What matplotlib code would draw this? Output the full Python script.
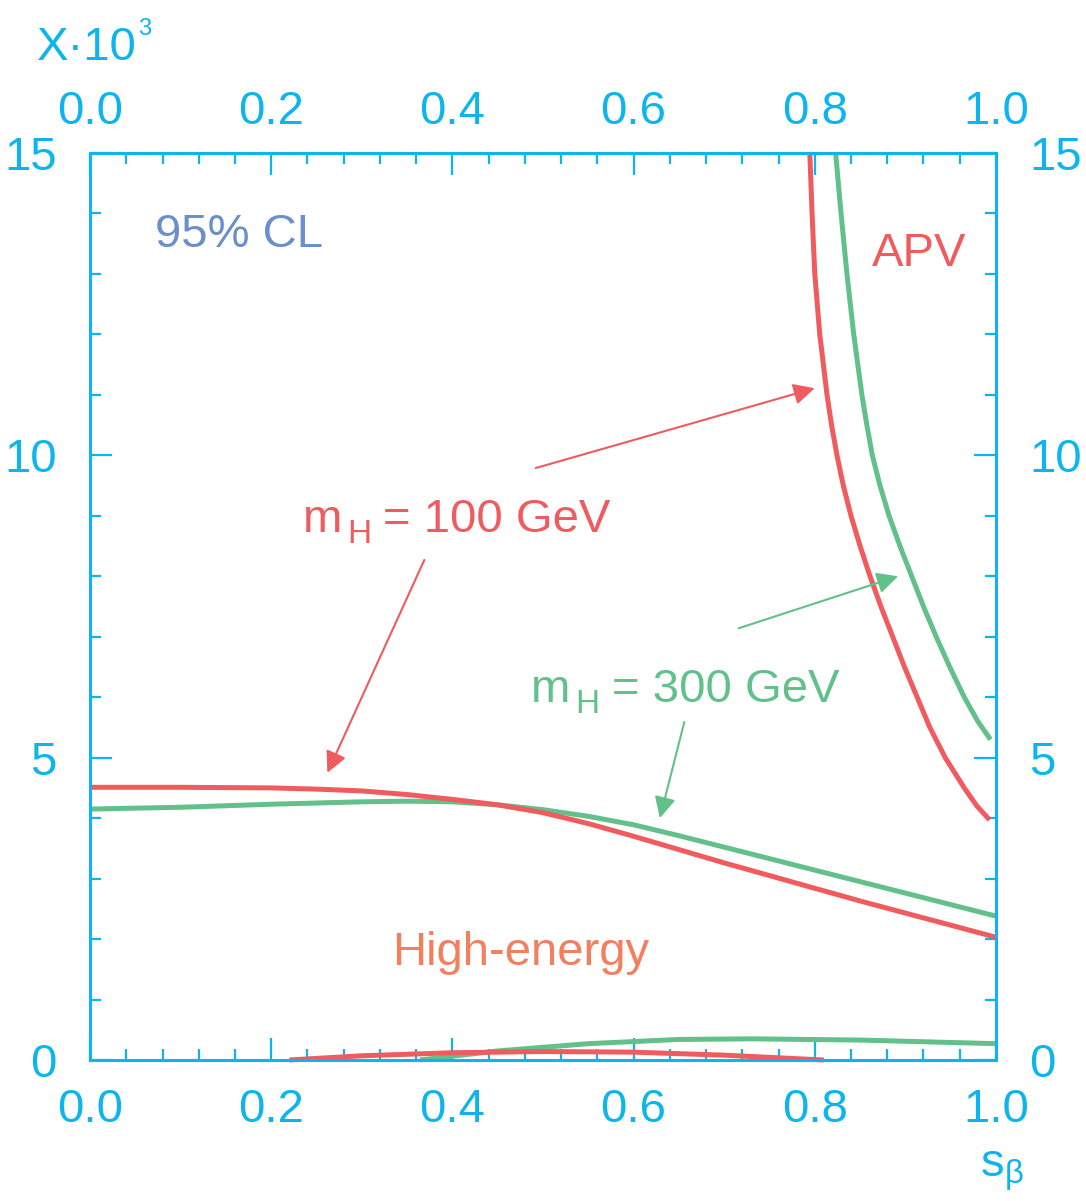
import matplotlib
matplotlib.use("Agg")
import matplotlib.pyplot as plt
from matplotlib.ticker import NullLocator
import numpy as np

# high-energy bounds (upper branch)
he_x = [0.0, 0.1, 0.2, 0.25, 0.3, 0.35, 0.4, 0.45, 0.5, 0.55, 0.6, 0.65, 0.7, 0.75, 0.8, 0.85, 0.9, 0.95, 1.0]
he_100 = [4.51, 4.51, 4.50, 4.48, 4.45, 4.39, 4.31, 4.22, 4.09, 3.91, 3.70, 3.48, 3.26, 3.05, 2.84, 2.63, 2.43, 2.23, 2.03]
he_300 = [4.15, 4.18, 4.23, 4.25, 4.27, 4.28, 4.27, 4.22, 4.14, 4.03, 3.89, 3.71, 3.52, 3.33, 3.14, 2.95, 2.76, 2.57, 2.38]

# high-energy bounds (lower branch)
low100_x = [0.22, 0.3, 0.4, 0.5, 0.6, 0.7, 0.81]
low100_y = [0.0, 0.07, 0.12, 0.14, 0.13, 0.08, 0.0]
low300_x = [0.364, 0.45, 0.55, 0.65, 0.73, 0.85, 1.0]
low300_y = [0.0, 0.15, 0.27, 0.34, 0.35, 0.33, 0.27]

# APV bounds
apv100_y = [15.0, 14.0, 13.0, 12.0, 11.0, 10.5, 10.0, 9.5, 9.0, 8.5, 8.0, 7.5, 7.0, 6.5, 6.0, 5.5, 5.0, 4.5, 4.2, 3.97]
apv100_x = [0.7945, 0.797, 0.800, 0.8055, 0.8135, 0.8185, 0.8245, 0.8315, 0.840, 0.850, 0.861, 0.873, 0.886,
            0.899, 0.913, 0.927, 0.944, 0.965, 0.979, 0.993]
apv300_y = [15.0, 14.0, 13.0, 12.0, 11.0, 10.5, 10.0, 9.5, 9.0, 8.5, 8.0, 7.5, 7.0, 6.5, 6.0, 5.6, 5.3]
apv300_x = [0.823, 0.829, 0.8355, 0.843, 0.852, 0.8575, 0.8635, 0.872, 0.882, 0.894, 0.907, 0.920, 0.934,
            0.949, 0.965, 0.980, 0.994]

xticks = [0.0, 0.2, 0.4, 0.6, 0.8, 1.0]
xlabels = ["0.0", "0.2", "0.4", "0.6", "0.8", "1.0"]
yticks = [0, 5, 10, 15]
ylabels = ["0", "5", "10", "15"]

blue = "#0DB4EE"
red = "#EF5B5E"
green = "#62C08A"

plt.rc('font', **{'size': 34, 'family': 'Liberation Sans'})
plt.rc('mathtext', fontset='custom', rm='Liberation Sans', it='Liberation Sans', bf='Liberation Sans')

fig, ax = plt.subplots(figsize=(10.86, 12.01), dpi=100)
fig.subplots_adjust(left=0.0829, right=0.9171, top=0.8726, bottom=0.1174)

lw = 3.6
ax.plot(he_x, he_300, color=green, lw=lw, solid_capstyle='butt')
ax.plot(he_x, he_100, color=red, lw=lw, solid_capstyle='butt')
ax.plot(low300_x, low300_y, color=green, lw=lw, solid_capstyle='butt', clip_on=False)
ax.plot(low100_x, low100_y, color=red, lw=lw, solid_capstyle='butt', clip_on=False)
ax.plot(apv300_x, apv300_y, color=green, lw=lw, solid_capstyle='butt', solid_joinstyle='round')
ax.plot(apv100_x, apv100_y, color=red, lw=lw, solid_capstyle='butt', solid_joinstyle='round')

ax.set_xlim(0, 1)
ax.set_ylim(0, 15)

# arrows
arrow = dict(arrowstyle='-|>', lw=1.5, mutation_scale=32, shrinkA=0, shrinkB=0)
ax.annotate("", xy=(0.800, 11.11), xytext=(0.492, 9.79), arrowprops=dict(color=red, **arrow))
ax.annotate("", xy=(0.262, 4.75), xytext=(0.369, 8.27), arrowprops=dict(color=red, **arrow))
ax.annotate("", xy=(0.892, 8.0), xytext=(0.716, 7.14), arrowprops=dict(color=green, **arrow))
ax.annotate("", xy=(0.629, 4.0), xytext=(0.656, 5.59), arrowprops=dict(color=green, **arrow))

# labels
ax.text(0.072, 13.65, "95% CL", color="#6A8FCB", va='center', ha='left')
ax.text(0.863, 13.33, "APV", color=red, va='center', ha='left')
for (lx, ly), txt, c in [((0.235, 8.73), "= 100 GeV", red), ((0.487, 5.92), "= 300 GeV", green)]:
    ax.text(lx, ly, "m", color=c, va='baseline', ha='left')
    ax.annotate("H", (lx, ly), xytext=(32, -8), textcoords='offset points', fontsize=24,
                color=c, va='baseline', ha='left')
    ax.annotate(txt, (lx, ly), xytext=(58, 0), textcoords='offset points',
                color=c, va='baseline', ha='left')
ax.text(0.334, 1.57, "High-energy", color="#F2805F", va='baseline', ha='left')

fig.text(0.034, 0.950, "X\u00b710", color=blue, ha='left', va='baseline')
fig.text(0.1275, 0.971, "3", color=blue, ha='left', va='baseline', fontsize=17)
fig.text(0.902, 0.020, r"$\mathrm{s}_{\mathrm{β}}$", color=blue, ha='left', va='baseline')

# axes styling
for s in ax.spines.values():
    s.set_color(blue)
    s.set_linewidth(2.2)
ax.set_xticks(xticks)
ax.set_xticklabels(xlabels)
ax.set_yticks(yticks)
ax.set_yticklabels(ylabels)
ax.set_xticks(np.arange(0, 1.001, 0.04), minor=True)
ax.set_yticks(np.arange(0, 15.001, 1), minor=True)
ax.tick_params(which='both', direction='in', top=True, right=True, labelright=True,
               color=blue, labelcolor=blue, width=1.6)
ax.tick_params(which='major', length=16)
ax.tick_params(which='minor', length=8)
ax.tick_params(axis='x', which='major', pad=20)
ax.tick_params(axis='y', which='major', pad=24)

# top labels sit a little closer to the frame
sec = ax.secondary_xaxis('top')
sec.set_xticks(xticks)
sec.set_xticklabels(xlabels)
sec.xaxis.set_minor_locator(NullLocator())
sec.tick_params(length=0, pad=14, labelcolor=blue)
for s in sec.spines.values():
    s.set_visible(False)

plt.savefig("out.png", dpi=100)
